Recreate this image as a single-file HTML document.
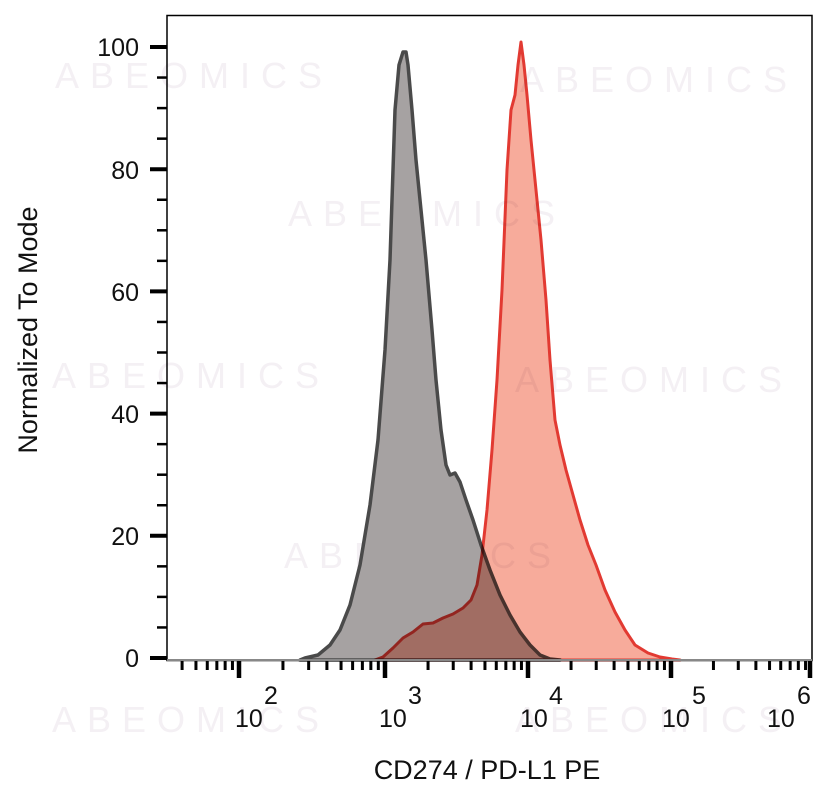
<!DOCTYPE html>
<html><head><meta charset="utf-8"><style>
body{margin:0;background:#fff;}
svg{display:block;font-family:"Liberation Sans",Arial,sans-serif;}
</style></head><body>
<svg id="s" width="832" height="797" viewBox="0 0 832 797" xmlns="http://www.w3.org/2000/svg">
<g fill="#f4f0f4" font-size="36" letter-spacing="11">
<text x="55" y="88">ABEOMICS</text>
<text x="520" y="92">ABEOMICS</text>
<text x="288" y="226">ABEOMICS</text>
<text x="52" y="388">ABEOMICS</text>
<text x="515" y="392">ABEOMICS</text>
<text x="284" y="568">ABEOMICS</text>
<text x="52" y="732">ABEOMICS</text>
<text x="515" y="732">ABEOMICS</text>
</g>
<path d="M300,660 L305,658 L318,655 L330,645 L340,630 L350,605 L360,565 L370,505 L378,440 L385,350 L390,260 L395,110 L399,65 L403,52 L406,52 L408,65 L412,110 L416,160 L421,210 L426,260 L432,330 L436,380 L441,430 L446,465 L450,475 L455,473 L460,482 L466,500 L473,520 L481,545 L490,570 L500,595 L510,615 L520,632 L530,645 L540,655 L550,659 L560,660 Z" fill="#a6a2a2" stroke="#4a4a4a" stroke-width="3.5" stroke-linejoin="round"/>
<path d="M375,660 L383,657 L393,648 L403,638 L413,632 L423,624 L433,623 L443,618 L453,614 L463,608 L471,600 L477,585 L482,555 L487,510 L492,450 L497,380 L502,290 L507,170 L511,110 L515,95 L518,65 L521,42 L524,65 L527,95 L531,140 L536,190 L541,240 L546,300 L550,360 L555,420 L560,445 L566,470 L573,495 L580,520 L588,545 L596,565 L605,590 L615,612 L625,630 L635,645 L648,653 L660,657 L672,659 L680,660 Z" fill="#f7ab9b" stroke="#e23a32" stroke-width="3" stroke-linejoin="round" style="mix-blend-mode:multiply"/>
<rect x="167" y="15.5" width="645" height="645" fill="none" stroke="#000" stroke-width="1.5"/>
<line x1="167" y1="660" x2="812" y2="660" stroke="#888" stroke-width="2"/>
<g id="ticks" stroke="#000"></g>
<g font-size="25" fill="#111" text-anchor="end">
<text x="139" y="56">100</text><text x="139" y="179">80</text><text x="139" y="301">60</text>
<text x="139" y="423">40</text><text x="139" y="545">20</text><text x="139" y="667">0</text>
</g>
<g font-size="25" fill="#111">
<text x="235" y="727">10</text><text x="264" y="704">2</text>
<text x="379" y="727">10</text><text x="408" y="704">3</text>
<text x="520" y="727">10</text><text x="549" y="704">4</text>
<text x="662" y="727">10</text><text x="692" y="704">5</text>
<text x="767" y="727">10</text><text x="797" y="704">6</text>
</g>
<text x="487" y="779" font-size="27" text-anchor="middle" fill="#111">CD274 / PD-L1 PE</text>
<text transform="translate(37,330) rotate(-90)" font-size="27" text-anchor="middle" fill="#111">Normalized To Mode</text>
</svg>
<script>
var g=document.getElementById('ticks'),h='';
for(var v=0;v<=100;v+=5){var y=658-v*6.11;var maj=v%20==0;
h+='<line x1="'+(maj?150:157)+'" y1="'+y+'" x2="167" y2="'+y+'" stroke-width="'+(maj?4:2.5)+'"/>';}
var dec=[[1,96],[2,239],[3,385],[4,528],[5,671],[6,812]];
for(var d=1;d<6;d++){var x0=dec[d-1][1],x1=dec[d][1];
for(var k=2;k<=9;k++){var x=x0+(x1-x0)*Math.log10(k);if(x<170)continue;
h+='<line x1="'+x+'" y1="661" x2="'+x+'" y2="670" stroke-width="3"/>';}}
for(var d=1;d<6;d++){var x=dec[d][1];if(x>810)x=810;
h+='<line x1="'+x+'" y1="661" x2="'+x+'" y2="678" stroke-width="4.5"/>';}
g.innerHTML=h;
</script>
</body></html>
